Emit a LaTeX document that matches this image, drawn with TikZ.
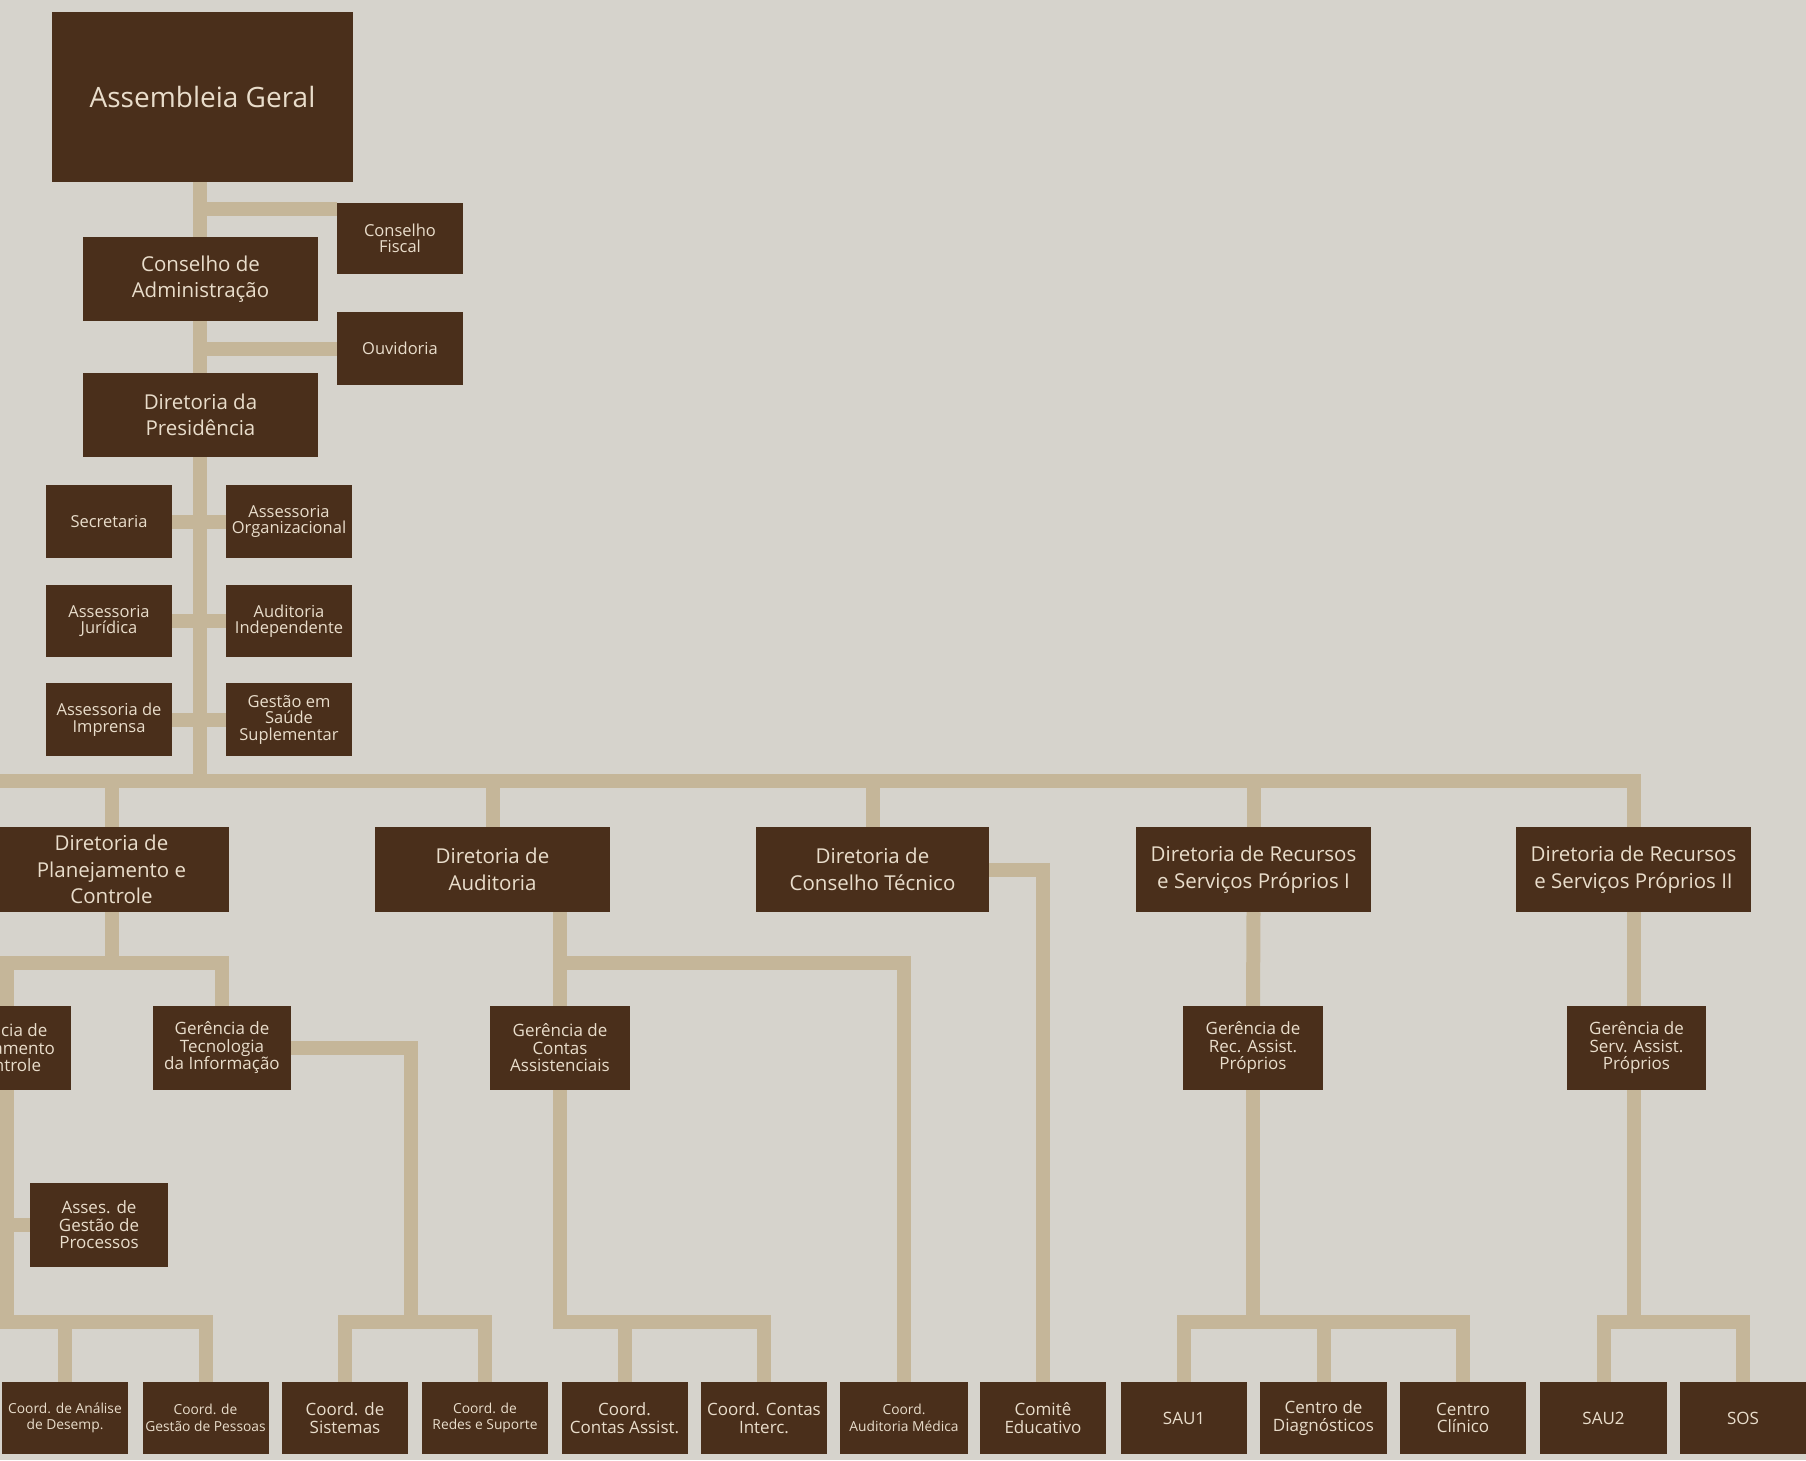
\documentclass[tikz,border=0pt]{standalone}
\usepackage{fontspec}
\setmainfont{Open Sans}
\usetikzlibrary{calc}
\definecolor{bgc}{HTML}{D6D3CC}
\definecolor{boxc}{HTML}{4A2F1B}
\definecolor{txtc}{HTML}{E9DDCB}
\definecolor{linec}{HTML}{C5B699}
\pgfdeclarelayer{back}
\pgfdeclarelayer{lines}
\pgfsetlayers{back,lines,main}
\tikzset{
  orgbox/.style={fill=boxc, text=txtc, inner sep=0pt, align=center, rectangle},
  sz/.style 2 args={minimum width=#1pt, minimum height=#2pt},
  bigtxt/.style={font=\fontsize{28}{32}\selectfont},
  midtxt/.style={font=\fontsize{20.5}{26.5}\selectfont},
  smtxt/.style={font=\fontsize{16.5}{16.5}\selectfont},
  gertxt/.style={font=\fontsize{17}{17.5}\selectfont},
  bottxt/.style={font=\fontsize{17}{17.5}\selectfont},
  tinytxt/.style={font=\fontsize{13.8}{16.5}\selectfont},
  conn/.style={draw=linec, line width=14pt, line join=miter},
}
\begin{document}
\begin{tikzpicture}[x=1pt,y=-1pt]
\useasboundingbox (0,0) rectangle (1806,1460);
\begin{pgfonlayer}{back}
\fill[bgc] (0,0) rectangle (1806,1460);
\end{pgfonlayer}

% top column
\node[orgbox,bigtxt,sz={301}{170}] (ag) at (202.5,97) {Assembleia Geral};
\node[orgbox,smtxt,sz={126}{71}] (cf) at (400,238.5) {Conselho\\Fiscal};
\node[orgbox,midtxt,sz={235}{84}] (ca) at (200.5,279) {Conselho de\\Administração};
\node[orgbox,smtxt,sz={126}{73}] (ouv) at (400,348.5) {Ouvidoria};
\node[orgbox,midtxt,sz={235}{84}] (dp) at (200.5,415) {Diretoria da\\Presidência};
\node[orgbox,smtxt,sz={126}{73}] (sec) at (109,521.5) {Secretaria};
\node[orgbox,smtxt,sz={126}{73}] (aorg) at (289,521.5) {Assessoria\\Organizacional};
\node[orgbox,smtxt,sz={126}{72}] (ajur) at (109,621) {Assessoria\\Jurídica};
\node[orgbox,smtxt,sz={126}{72}] (aind) at (289,621) {Auditoria\\Independente};
\node[orgbox,smtxt,sz={126}{73}] (aimp) at (109,719.5) {Assessoria de\\Imprensa};
\node[orgbox,smtxt,sz={126}{73}] (gss) at (289,719.5) {Gestão em\\Saúde\\Suplementar};

% directorates
\node[orgbox,midtxt,sz={235}{85}] (dpc) at (111.5,869.5) {Diretoria de\\Planejamento e\\Controle};
\node[orgbox,midtxt,sz={235}{85}] (daud) at (492.5,869.5) {Diretoria de\\Auditoria};
\node[orgbox,midtxt,sz={233}{85}] (dct) at (872.5,869.5) {Diretoria de\\Conselho Técnico};
\node[orgbox,midtxt,sz={235}{85}] (dr1) at (1253.5,869.5) {Diretoria de Recursos\\e Serviços Próprios I};
\node[orgbox,midtxt,sz={235}{85}] (dr2) at (1633.5,869.5) {Diretoria de Recursos\\e Serviços Próprios II};

% managements
\node[orgbox,gertxt,sz={142}{84}] (gpc) at (0,1048) {Gerência de\\Planejamento\\e Controle};
\node[orgbox,gertxt,sz={138}{84}] (gti) at (222,1048) {Gerência de\\Tecnologia\\da Informação};
\node[orgbox,gertxt,sz={140}{84}] (gca) at (560,1048) {Gerência de\\Contas\\Assistenciais};
\node[orgbox,gertxt,sz={140}{84}] (gra) at (1253,1048) {Gerência de\\Rec. Assist.\\Próprios};
\node[orgbox,gertxt,sz={139}{84}] (gsa) at (1636.5,1048) {Gerência de\\Serv. Assist.\\Próprios};
\node[orgbox,gertxt,sz={138}{84}] (asses) at (99,1225) {Asses. de\\Gestão de\\Processos};

% bottom row
\node[orgbox,tinytxt,sz={126}{72}] (cad) at (65,1418) {Coord. de Análise\\de Desemp.};
\node[orgbox,tinytxt,sz={126}{72}] (cgp) at (205.5,1418) {Coord. de\\Gestão de Pessoas};
\node[orgbox,bottxt,sz={126}{72}] (csis) at (345,1418) {Coord. de\\Sistemas};
\node[orgbox,tinytxt,sz={126}{72}] (cred) at (485,1418) {Coord. de\\Redes e Suporte};
\node[orgbox,bottxt,sz={126}{72}] (ccas) at (624.5,1418) {Coord.\\Contas Assist.};
\node[orgbox,bottxt,sz={126}{72}] (ccin) at (764,1418) {Coord. Contas\\Interc.};
\node[orgbox,tinytxt,sz={128}{72}] (camed) at (904,1418) {Coord.\\Auditoria Médica};
\node[orgbox,bottxt,sz={126}{72}] (comite) at (1043,1418) {Comitê\\Educativo};
\node[orgbox,bottxt,sz={126}{72}] (sau1) at (1184,1418) {SAU1};
\node[orgbox,bottxt,sz={127}{72}] (cdiag) at (1323.5,1418) {Centro de\\Diagnósticos};
\node[orgbox,bottxt,sz={126}{72}] (ccl) at (1463,1418) {Centro\\Clínico};
\node[orgbox,bottxt,sz={127}{72}] (sau2) at (1603.5,1418) {SAU2};
\node[orgbox,bottxt,sz={126}{72}] (sos) at (1743,1418) {SOS};

% reference coordinates
\coordinate (tk) at (200,0);
\coordinate (bus) at (0,781);
\coordinate (busL) at (-12,781);
\coordinate (lv1) at (0,963);
\coordinate (lx) at (7,0);
\coordinate (lv4) at (0,1322);
\coordinate (tix) at (411,0);
\coordinate (cfb) at ([yshift=-6pt]cf.north west);

\begin{pgfonlayer}{lines}
% trunk and side branches
\draw[conn] (tk |- ag.south) -- (tk |- bus);
\draw[conn] (cfb) -- (cfb -| tk);
\draw[conn] (ouv.west) -- (ouv.west -| tk);
\draw[conn] (sec.east) -- (aorg.west);
\draw[conn] (ajur.east) -- (aind.west);
\draw[conn] (aimp.east) -- (gss.west);
% main bus
\draw[conn] (busL) -| (dr2.north);
\draw[conn] (dpc.north) -- (dpc.north |- bus);
\draw[conn] (daud.north) -- (daud.north |- bus);
\draw[conn] (dct.north) -- (dct.north |- bus);
\draw[conn] (dr1.north) -- (dr1.north |- bus);
% planejamento
\draw[conn] (dpc.south) -- (dpc.south |- lv1);
\draw[conn] (lx |- gpc.north) -- (lx |- lv1) -| (gti.north);
\draw[conn] (lx |- gpc.south) -- (lx |- lv4) -| (cgp.north);
\draw[conn] (cad.north) -- (cad.north |- lv4);
\draw[conn] (asses.west) -- (asses.west -| lx);
% TI
\draw[conn] (gti.east) -- (gti.east -| tix) -- (tix |- lv4);
\draw[conn] (csis.north) |- (cred.north |- lv4) -- (cred.north);
% auditoria
\draw[conn] (gca.north |- daud.south) -- (gca.north);
\draw[conn] (gca.north |- lv1) -| (camed.north);
\draw[conn] (gca.south) |- (ccin.north |- lv4) -- (ccin.north);
\draw[conn] (ccas.north) -- (ccas.north |- lv4);
% conselho tecnico
\draw[conn] (dct.east) -| (comite.north);
% recursos I
\draw[conn] (dr1.south) -- (gra.north);
\draw[conn] (gra.south) -- (gra.south |- lv4);
\draw[conn] (sau1.north) |- (ccl.north |- lv4) -- (ccl.north);
\draw[conn] (cdiag.north) -- (cdiag.north |- lv4);
% recursos II
\draw[conn] (dr2.south) -- (dr2.south |- gsa.north);
\draw[conn] (dr2.south |- gsa.south) -- (dr2.south |- lv4);
\draw[conn] (sau2.north) |- (sos.north |- lv4) -- (sos.north);
\end{pgfonlayer}
\end{tikzpicture}
\end{document}
